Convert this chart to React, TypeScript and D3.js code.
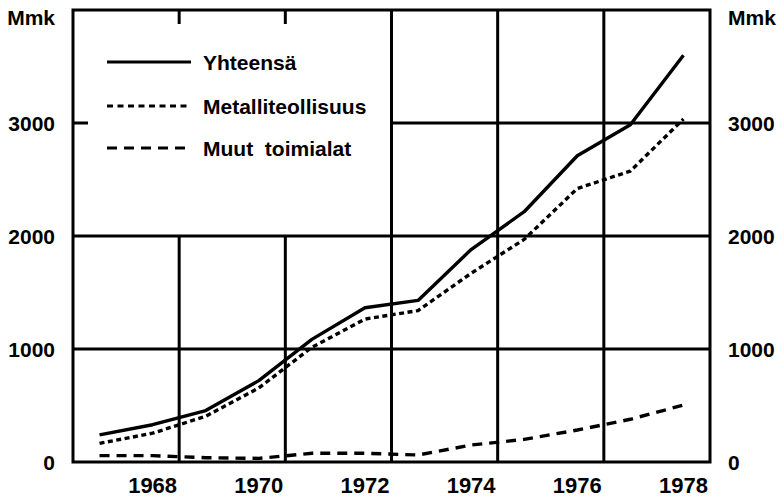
import React from "react";
import * as d3 from "d3";

const years = [1967, 1968, 1969, 1970, 1971, 1972, 1973, 1974, 1975, 1976, 1977, 1978];
const yhteensa = [240, 330, 455, 720, 1085, 1365, 1430, 1880, 2215, 2710, 2985, 3600];
const metalli = [165, 255, 405, 655, 1015, 1265, 1340, 1670, 1970, 2420, 2575, 3035];
const muut = [56, 56, 38, 32, 77, 77, 62, 150, 200, 283, 378, 504];
const yTicks = [0, 1000, 2000, 3000];
const xLabels = [1968, 1970, 1972, 1974, 1976, 1978];
const gridYears = [1968.5, 1970.5, 1972.5, 1974.5, 1976.5];
const legendLabels = ["Yhteensä", "Metalliteollisuus", "Muut  toimialat"];

const W = 782;
const H = 498;
const FONT = "'Liberation Sans', Arial, sans-serif";

export default function App() {
  const x = d3.scaleLinear().domain([1966.5, 1978.5]).range([73, 710]);
  const y = d3.scaleLinear().domain([0, 4000]).range([462, 10]);
  const line = d3
    .line<number>()
    .x((_, i) => x(years[i]))
    .y((d) => y(d));

  const sw = 3;
  const series = [
    { data: yhteensa, dash: undefined as string | undefined, w: 3.4 },
    { data: metalli, dash: "5 3.5", w: 3.4 },
    { data: muut, dash: "10 7", w: 3.4 },
  ];
  const legendDash = [undefined, "6 4.5", "10 7"];
  const legendY = [62, 106, 148];

  return (
    <svg
      width={W}
      height={H}
      style={{ position: "absolute", left: 0, top: 0, background: "#fff" }}
      fontFamily={FONT}
      fontWeight="bold"
    >
      <rect x={0} y={0} width={W} height={H} fill="#fff" />
      {/* horizontal grid */}
      <line x1={x(1966.5)} x2={x(1978.5)} y1={y(1000)} y2={y(1000)} stroke="#000" strokeWidth={sw} />
      <line x1={x(1966.5)} x2={x(1978.5)} y1={y(2000)} y2={y(2000)} stroke="#000" strokeWidth={sw} />
      <line x1={x(1972.5)} x2={x(1978.5)} y1={y(3000)} y2={y(3000)} stroke="#000" strokeWidth={sw} />
      <line x1={x(1966.5)} x2={x(1966.5) + 15} y1={y(3000)} y2={y(3000)} stroke="#000" strokeWidth={sw} />
      {/* vertical grid */}
      {gridYears.map((g) => {
        const partial = g < 1972;
        return (
          <g key={g}>
            <line
              x1={x(g)}
              x2={x(g)}
              y1={partial ? y(2000) : y(4000)}
              y2={y(0)}
              stroke="#000"
              strokeWidth={sw}
            />
            {partial && (
              <line x1={x(g)} x2={x(g)} y1={y(4000)} y2={y(4000) + 14} stroke="#000" strokeWidth={sw} />
            )}
          </g>
        );
      })}
      {/* frame */}
      <rect
        x={x(1966.5)}
        y={y(4000)}
        width={x(1978.5) - x(1966.5)}
        height={y(0) - y(4000)}
        fill="none"
        stroke="#000"
        strokeWidth={sw}
      />
      {/* series */}
      {series.map((s, i) => (
        <path
          key={i}
          d={line(s.data) || ""}
          fill="none"
          stroke="#000"
          strokeWidth={s.w}
          strokeDasharray={s.dash}
          strokeLinejoin="round"
        />
      ))}
      {/* y labels */}
      {yTicks.map((t) => (
        <g key={t} fontSize={21}>
          <text x={55} y={y(t)} dy="0.36em" textAnchor="end">
            {t}
          </text>
          <text x={728} y={y(t)} dy="0.36em" textAnchor="start">
            {t}
          </text>
        </g>
      ))}
      <text x={55} y={25} fontSize={21} textAnchor="end">Mmk</text>
      <text x={728} y={25} fontSize={21} textAnchor="start">Mmk</text>
      {/* x labels */}
      {xLabels.map((yr) => (
        <text key={yr} x={x(yr)} y={493} fontSize={22} textAnchor="middle">
          {yr}
        </text>
      ))}
      {/* legend */}
      {legendLabels.map((l, i) => (
        <g key={l}>
          <line
            x1={107}
            x2={191}
            y1={legendY[i]}
            y2={legendY[i]}
            stroke="#000"
            strokeWidth={3}
            strokeDasharray={legendDash[i]}
          />
          <text x={203} y={legendY[i]} dy="0.36em" fontSize={21} style={{ whiteSpace: "pre" }}>
            {l}
          </text>
        </g>
      ))}
    </svg>
  );
}
